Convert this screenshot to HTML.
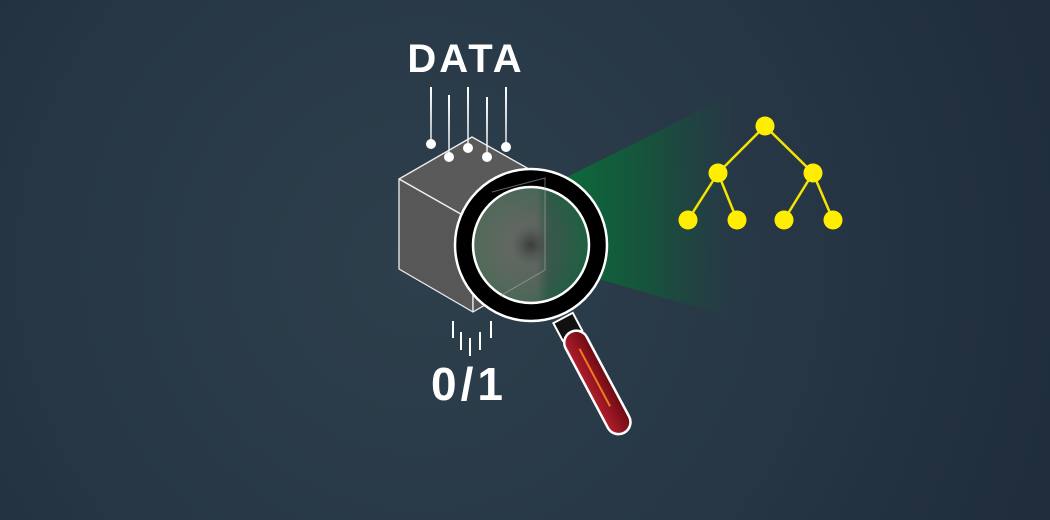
<!DOCTYPE html>
<html><head><meta charset="utf-8"><style>
html,body{margin:0;padding:0;width:1050px;height:520px;overflow:hidden}
svg{display:block}
</style></head><body>
<svg width="1050" height="520" viewBox="0 0 1050 520">
<defs>
<radialGradient id="bg" cx="420" cy="265" r="650" gradientUnits="userSpaceOnUse">
<stop offset="0" stop-color="#2e3f4c"/><stop offset="0.6" stop-color="#263645"/><stop offset="1" stop-color="#1f2d3c"/>
</radialGradient>
<linearGradient id="beam" x1="567" y1="0" x2="740" y2="0" gradientUnits="userSpaceOnUse">
<stop offset="0" stop-color="#0d6a3a"/><stop offset="0.5" stop-color="#13573a" stop-opacity="0.8"/><stop offset="1" stop-color="#1c4a3c" stop-opacity="0"/>
</linearGradient>
<linearGradient id="lensbase" x1="473" y1="0" x2="589" y2="0" gradientUnits="userSpaceOnUse">
<stop offset="0" stop-color="#6b7066"/><stop offset="0.55" stop-color="#5f6a62"/><stop offset="0.65" stop-color="#33594a"/><stop offset="1" stop-color="#1d6040"/>
</linearGradient>
<radialGradient id="lensdark" cx="531" cy="245" r="58" gradientUnits="userSpaceOnUse">
<stop offset="0" stop-color="#333" stop-opacity="0.85"/><stop offset="0.35" stop-color="#555" stop-opacity="0.2"/><stop offset="1" stop-color="#1d6040" stop-opacity="0.35"/>
</radialGradient>
<linearGradient id="handle" x1="0" y1="0" x2="1" y2="0">
<stop offset="0" stop-color="#b01f2c"/><stop offset="1" stop-color="#6e0a14"/>
</linearGradient>
</defs>
<rect width="1050" height="520" fill="url(#bg)"/>
<polygon points="567,177 735,93 735,318 567,270" fill="url(#beam)"/>
<text x="466" y="72" text-anchor="middle" font-family="Liberation Sans, sans-serif" font-weight="bold" font-size="40" letter-spacing="3" fill="#fff">DATA</text>
<g stroke="#eee" stroke-width="1.3" stroke-linejoin="round">
<polygon points="399,179 472,137 545,178 473,221" fill="#5a5a5a"/>
<polygon points="399,179 473,221 473,312 399,269" fill="#575757"/>
<polygon points="473,221 545,178 545,270 473,312" fill="#555"/>
</g>
<g fill="#fff">
<polygon points="430,87 432,87 431.6,144 430.4,144"/><circle cx="431" cy="144" r="5"/>
<polygon points="448,95 450,95 449.6,157 448.4,157"/><circle cx="449" cy="157" r="5"/>
<polygon points="467,87 469,87 468.6,148 467.4,148"/><circle cx="468" cy="148" r="5"/>
<polygon points="486,97 488,97 487.6,157 486.4,157"/><circle cx="487" cy="157" r="5"/>
<polygon points="505,87 507,87 506.6,147 505.4,147"/><circle cx="506" cy="147" r="5"/>
</g>
<g stroke="#fff" stroke-width="2">
<line x1="453" y1="321" x2="453" y2="338"/><line x1="461" y1="332" x2="461" y2="350"/>
<line x1="470" y1="338" x2="470" y2="356"/><line x1="480" y1="332" x2="480" y2="350"/>
<line x1="491" y1="321" x2="491" y2="338"/>
</g>
<text x="469" y="400" text-anchor="middle" font-family="Liberation Sans, sans-serif" font-size="46" font-weight="600" letter-spacing="4" fill="#fff">0/1</text>
<g>
<g transform="rotate(-28 595 378)">
<rect x="584" y="310" width="22" height="20" fill="#111" stroke="#fff" stroke-width="2"/>
<rect x="583" y="326" width="24" height="114" rx="12" fill="url(#handle)" stroke="#fff" stroke-width="2.5"/>
<line x1="595" y1="345" x2="595" y2="410" stroke="#f07a1e" stroke-width="2"/>
</g>
<circle cx="531" cy="245" r="76" fill="#000" stroke="#fff" stroke-width="2.5"/>
<circle cx="531" cy="245" r="58" fill="url(#lensbase)"/>
<circle cx="531" cy="245" r="58" fill="url(#lensdark)" stroke="#fff" stroke-width="2.5"/>
<polyline points="492,192 545,178 545,270 500,296" fill="none" stroke="#aaa" stroke-opacity="0.6" stroke-width="1"/>
</g>
<g stroke="#f5e400" stroke-width="2.5" fill="#ffee00">
<line x1="765" y1="126" x2="718" y2="173"/><line x1="765" y1="126" x2="813" y2="173"/>
<line x1="718" y1="173" x2="688" y2="220"/><line x1="718" y1="173" x2="737" y2="220"/>
<line x1="813" y1="173" x2="784" y2="220"/><line x1="813" y1="173" x2="833" y2="220"/>
<g stroke="none">
<circle cx="765" cy="126" r="9.5"/><circle cx="718" cy="173" r="9.5"/><circle cx="813" cy="173" r="9.5"/>
<circle cx="688" cy="220" r="9.5"/><circle cx="737" cy="220" r="9.5"/><circle cx="784" cy="220" r="9.5"/><circle cx="833" cy="220" r="9.5"/>
</g>
</g>
</svg>
</body></html>
